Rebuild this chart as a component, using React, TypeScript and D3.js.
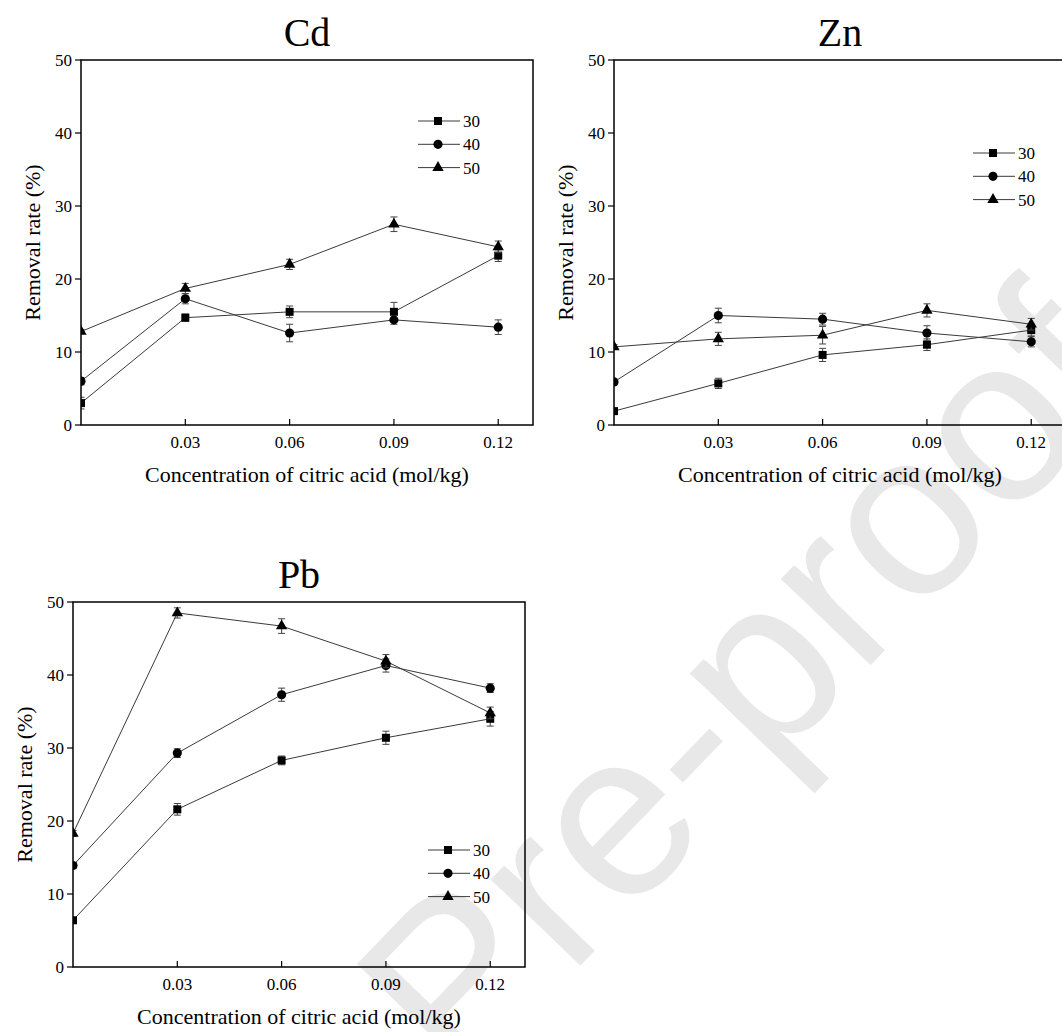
import { useEffect, useRef } from 'react'
import * as d3 from 'd3'

// citric acid concentration (mol/kg)
const concentrations = [0, 0.03, 0.06, 0.09, 0.12]
const xTickValues = [0.03, 0.06, 0.09, 0.12]
const yTickValues = [0, 10, 20, 30, 40, 50]
const seriesNames = ['30', '40', '50']

const cd30 = [3.0, 14.7, 15.5, 15.5, 23.2]
const cd30Err = [0.8, 0.5, 0.8, 1.3, 0.8]
const cd40 = [6.0, 17.3, 12.6, 14.4, 13.4]
const cd40Err = [0.5, 0.7, 1.2, 0.6, 1.0]
const cd50 = [12.8, 18.7, 22.0, 27.5, 24.4]
const cd50Err = [0.3, 0.7, 0.7, 1.0, 0.8]

const zn30 = [1.9, 5.7, 9.6, 11.0, 13.0]
const zn30Err = [0.4, 0.7, 0.9, 0.8, 0.8]
const zn40 = [5.9, 15.0, 14.5, 12.6, 11.4]
const zn40Err = [0.4, 1.0, 0.8, 1.0, 0.7]
const zn50 = [10.7, 11.8, 12.3, 15.7, 13.8]
const zn50Err = [0.3, 0.9, 1.2, 0.9, 0.8]

const pb30 = [6.4, 21.6, 28.3, 31.4, 34.0]
const pb30Err = [0.4, 0.8, 0.6, 0.9, 1.0]
const pb40 = [13.9, 29.3, 37.3, 41.3, 38.2]
const pb40Err = [0.4, 0.6, 0.9, 0.9, 0.6]
const pb50 = [18.3, 48.5, 46.7, 41.9, 34.8]
const pb50Err = [0.4, 0.7, 1.0, 0.9, 0.8]

const panels = [
  { title: 'Cd', left: 81, top: 60, legendX: 418, legendY: 121,
    series: [[cd30, cd30Err], [cd40, cd40Err], [cd50, cd50Err]] },
  { title: 'Zn', left: 614, top: 60, legendX: 973, legendY: 153,
    series: [[zn30, zn30Err], [zn40, zn40Err], [zn50, zn50Err]] },
  { title: 'Pb', left: 73, top: 602, legendX: 428, legendY: 850,
    series: [[pb30, pb30Err], [pb40, pb40Err], [pb50, pb50Err]] },
]

const W = 1062
const H = 1032
const PW = 452
const PH = 365
const serif = "'Liberation Serif', 'Times New Roman', Times, serif"
const symbols = [d3.symbolSquare, d3.symbolCircle, d3.symbolTriangle]
const symbolSizes = [64, 66, 56]

export default function App() {
  const svgRef = useRef<SVGSVGElement>(null)

  useEffect(() => {
    const svg = d3.select(svgRef.current)
    svg.selectAll('*').remove()

    // watermark
    svg.append('text')
      .attr('transform', 'translate(460,1090) rotate(-46)')
      .attr('font-family', "'Liberation Sans', Arial, sans-serif")
      .attr('font-size', 235)
      .attr('fill', '#e8e8e8')
      .text('Pre-proofs')

    panels.forEach((p, pi) => {
      const x = d3.scaleLinear().domain([0, 0.13]).range([0, PW])
      const y = d3.scaleLinear().domain([0, 50]).range([PH, 0])

      const g = svg.append('g').attr('transform', `translate(${p.left},${p.top})`)

      g.append('clipPath').attr('id', `clip${pi}`)
        .append('rect').attr('width', PW).attr('height', PH)

      // title
      g.append('text')
        .attr('x', PW / 2).attr('y', -14)
        .attr('text-anchor', 'middle')
        .attr('font-size', 40)
        .text(p.title)

      // y ticks outward, x ticks inward
      yTickValues.forEach((t) => {
        g.append('line')
          .attr('x1', -6).attr('x2', 0)
          .attr('y1', y(t)).attr('y2', y(t))
          .attr('stroke', '#000').attr('stroke-width', 1.2)
        g.append('text')
          .attr('x', -9).attr('y', y(t) + 6)
          .attr('text-anchor', 'end')
          .attr('font-size', 17)
          .text(t)
      })

      xTickValues.forEach((t) => {
        g.append('line')
          .attr('x1', x(t)).attr('x2', x(t))
          .attr('y1', PH).attr('y2', PH - 6)
          .attr('stroke', '#000').attr('stroke-width', 1.2)
        g.append('text')
          .attr('x', x(t)).attr('y', PH + 23)
          .attr('text-anchor', 'middle')
          .attr('font-size', 17)
          .text(d3.format('.2f')(t))
      })

      g.append('text')
        .attr('x', PW / 2).attr('y', PH + 57)
        .attr('text-anchor', 'middle')
        .attr('font-size', 22)
        .text('Concentration of citric acid (mol/kg)')

      g.append('text')
        .attr('transform', `translate(-41,${PH / 2}) rotate(-90)`)
        .attr('text-anchor', 'middle')
        .attr('font-size', 22)
        .text('Removal rate (%)')

      const data = g.append('g').attr('clip-path', `url(#clip${pi})`)
      const line = d3.line<number>()
        .x((_, i) => x(concentrations[i]))
        .y((d) => y(d))

      p.series.forEach(([vals, errs], si) => {
        data.append('path')
          .datum(vals)
          .attr('fill', 'none')
          .attr('stroke', '#3a3a3a')
          .attr('stroke-width', 1)
          .attr('d', line)

        vals.forEach((v, i) => {
          const cx = x(concentrations[i])
          const lo = y(v - errs[i])
          const hi = y(v + errs[i])
          data.append('path')
            .attr('d', `M${cx},${lo}V${hi}M${cx - 3.5},${lo}H${cx + 3.5}M${cx - 3.5},${hi}H${cx + 3.5}`)
            .attr('stroke', '#444').attr('stroke-width', 1).attr('fill', 'none')
        })

        data.selectAll(null)
          .data(vals)
          .join('path')
          .attr('transform', (d, i) => `translate(${x(concentrations[i])},${y(d)})`)
          .attr('d', d3.symbol().type(symbols[si]).size(symbolSizes[si])())
          .attr('fill', '#000')
      })

      // frame
      g.append('rect')
        .attr('width', PW).attr('height', PH)
        .attr('fill', 'none').attr('stroke', '#000').attr('stroke-width', 1.5)

      // legend
      const lg = svg.append('g').attr('transform', `translate(${p.legendX},${p.legendY})`)
      seriesNames.forEach((name, si) => {
        const row = lg.append('g').attr('transform', `translate(0,${si * 23.3})`)
        row.append('line').attr('x1', 0).attr('x2', 42)
          .attr('stroke', '#3a3a3a').attr('stroke-width', 1)
        row.append('path')
          .attr('transform', 'translate(20,0)')
          .attr('d', d3.symbol().type(symbols[si]).size(symbolSizes[si])())
          .attr('fill', '#000')
        row.append('text')
          .attr('x', 45).attr('y', 6)
          .attr('font-size', 17)
          .text(name)
      })
    })
  }, [])

  return (
    <div style={{ position: 'absolute', left: 0, top: 0, width: W, height: H, overflow: 'hidden', background: '#fff' }}>
      <svg ref={svgRef} width={W} height={H} fontFamily={serif} />
    </div>
  )
}
